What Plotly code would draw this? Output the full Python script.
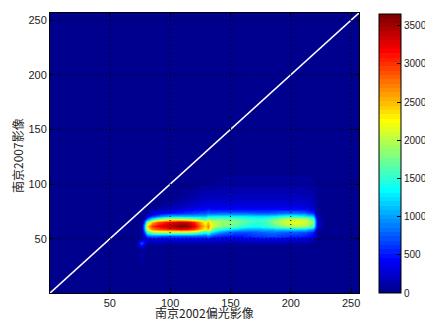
import numpy as np
import plotly.graph_objects as go

# ---------------- data ----------------
x_centers = [1, 72, 76, 78, 81, 85, 90, 96, 102, 108, 114, 120, 125, 129, 131,
             134, 140, 148, 156, 164, 172, 180, 188, 196, 204, 212, 218, 222, 228, 256]
y_centers = [1, 42, 46, 50, 53, 56, 59, 62, 65, 68, 71, 74, 77, 81, 88, 96, 106, 118, 256]

#            1  72   76   78   81    85    90    96   102   108   114   120   125   129   131   134   140   148   156   164   172   180   188   196   204   212   218  222  228 256
row_001 = [0, 0,   0,   0,    0,    0,    0,    0,    0,    0,    0,    0,    0,    0,    0,    0,    0,    0,    0,    0,    0,    0,    0,    0,    0,    0,    0,   0,   0, 0]
row_042 = [0, 0, 100,  80,    0,    0,    0,    0,    0,    0,    0,    0,    0,    0,    0,    0,    0,    0,    0,    0,    0,    0,    0,    0,    0,    0,    0,   0,   0, 0]
row_046 = [0, 0, 700, 500,  100,  120,  100,  100,  100,  100,  100,  100,  100,  100,  100,  100,  100,  100,  100,  100,  100,  100,  100,  100,  100,   90,   50,   0,   0, 0]
row_050 = [0, 0, 200, 200,  300,  350,  350,  350,  350,  350,  350,  350,  350,  350,  400,  350,  300,  300,  320,  350,  380,  380,  380,  350,  320,  300,  180,  20,   0, 0]
row_053 = [0, 0, 100, 300,  700,  800,  750,  700,  700,  700,  700,  700,  700,  700,  800,  650,  550,  500,  480,  550,  600,  650,  650,  600,  550,  520,  380,  50,   0, 0]
row_056 = [0, 0,   0, 600, 1500, 1900, 2000, 2000, 2000, 2000, 2000, 1900, 1650, 1450, 1650, 1300, 1000,  800,  700,  700,  750,  800,  800,  750,  750,  700,  550,  80,   0, 0]
row_059 = [0, 0,   0, 900, 2200, 2700, 2900, 3000, 3100, 3200, 3150, 2950, 2600, 2200, 2500, 1900, 1500, 1300, 1150, 1050, 1050, 1100, 1150, 1200, 1250, 1200, 1000, 150,   0, 0]
row_062 = [0, 0,   0,1000, 2400, 3000, 3200, 3350, 3500, 3650, 3600, 3300, 2800, 2400, 2700, 2200, 1900, 1750, 1600, 1450, 1400, 1500, 1700, 1900, 2000, 1950, 1650, 250,   0, 0]
row_065 = [0, 0,   0, 600, 1800, 2500, 2900, 3100, 3250, 3400, 3350, 3050, 2600, 2200, 2500, 2100, 1950, 1850, 1750, 1600, 1500, 1600, 1900, 2100, 2200, 2100, 1800, 300,   0, 0]
row_068 = [0, 0,   0, 200,  800, 1400, 1800, 2000, 2100, 2100, 2000, 1900, 1750, 1650, 1850, 1750, 1750, 1700, 1650, 1550, 1500, 1550, 1800, 2000, 2050, 2000, 1650, 250,   0, 0]
row_071 = [0, 0,   0,  50,  300,  600,  800, 1000, 1100, 1100, 1100, 1100, 1100, 1100, 1300, 1250, 1300, 1300, 1300, 1250, 1200, 1200, 1300, 1400, 1400, 1300, 1100, 150,   0, 0]
row_074 = [0, 0,   0,   0,  100,  250,  350,  450,  500,  550,  600,  650,  700,  700,  800,  750,  800,  800,  800,  800,  750,  750,  800,  850,  850,  800,  600,  80,   0, 0]
row_077 = [0, 0,   0,   0,    0,  100,  150,  200,  250,  300,  350,  400,  420,  450,  500,  450,  450,  450,  450,  450,  450,  450,  450,  450,  450,  420,  300,  50,   0, 0]
row_081 = [0, 0,   0,   0,    0,    0,    0,   80,  120,  150,  200,  250,  280,  300,  320,  300,  300,  300,  300,  300,  300,  300,  300,  300,  300,  280,  200,  60,  20, 0]
row_088 = [0, 0,   0,   0,    0,    0,    0,    0,    0,   60,  100,  130,  160,  180,  200,  190,  190,  200,  200,  200,  200,  200,  200,  200,  200,  180,  140,  60,  20, 0]
row_096 = [0, 0,   0,   0,    0,    0,    0,    0,    0,    0,    0,   60,   80,  100,  110,  110,  120,  130,  130,  130,  130,  130,  130,  130,  130,  120,  100,  50,  20, 0]
row_106 = [0, 0,   0,   0,    0,    0,    0,    0,    0,    0,    0,    0,    0,    0,    0,    0,   50,   70,   70,   70,   70,   70,   70,   70,   70,   70,   50,  30,   0, 0]
row_118 = [0, 0,   0,   0,    0,    0,    0,    0,    0,    0,    0,    0,    0,    0,    0,    0,    0,    0,    0,    0,    0,    0,    0,    0,    0,    0,    0,   0,   0, 0]
row_256 = [0, 0,   0,   0,    0,    0,    0,    0,    0,    0,    0,    0,    0,    0,    0,    0,    0,    0,    0,    0,    0,    0,    0,    0,    0,    0,    0,   0,   0, 0]

counts = [row_001, row_042, row_046, row_050, row_053, row_056, row_059, row_062, row_065,
          row_068, row_071, row_074, row_077, row_081, row_088, row_096, row_106, row_118, row_256]

axis_ticks = [50, 100, 150, 200, 250]
axis_range = [0.5, 256.5]
diag_xy = [0, 257]
cbar_max = 3650
cbar_ticks = [0, 500, 1000, 1500, 2000, 2500, 3000, 3500]

x_title = "南京2002偏光影像"
y_title = "南京2007影像"

# ---------------- MATLAB jet(64) colormap ----------------
def jet64():
    m = 64
    n = int(np.ceil(m / 4))
    u = np.concatenate([np.arange(1, n + 1) / n, np.ones(n - 1), np.arange(n, 0, -1) / n])
    g = int(np.ceil(n / 2)) - (1 if m % 4 == 1 else 0) + np.arange(1, len(u) + 1)
    r = g + n
    b = g - n
    J = np.zeros((m, 3))
    for idx, val in zip(r, u):
        if 1 <= idx <= m:
            J[idx - 1, 0] = val
    for idx, val in zip(g, u):
        if 1 <= idx <= m:
            J[idx - 1, 1] = val
    for idx, val in zip(b, u):
        if 1 <= idx <= m:
            J[idx - 1, 2] = val
    return J

J = jet64()
colorscale = []
for i, c in enumerate(J):
    col = "rgb(%d,%d,%d)" % tuple(int(round(v * 255)) for v in c)
    colorscale.append([i / 64, col])
    colorscale.append([(i + 1) / 64, col])
bg = colorscale[0][1]

W, H = 425, 320
tick_family = "Liberation Sans"

fig = go.Figure()
fig.add_trace(go.Heatmap(
    x=x_centers, y=y_centers, z=counts,
    zmin=0, zmax=cbar_max, colorscale=colorscale, zsmooth="best",
    colorbar=dict(
        thickness=22, thicknessmode="pixels",
        len=279, lenmode="pixels",
        x=1.0647, xanchor="left", xpad=0,
        y=0.996, yanchor="top", ypad=0,
        outlinecolor="black", outlinewidth=1,
        tickvals=cbar_ticks, ticks="inside", ticklen=4, tickcolor="black",
        tickfont=dict(family=tick_family, size=10, color="#222"),
    ),
    hoverinfo="skip",
))
fig.add_trace(go.Scatter(x=diag_xy, y=diag_xy, mode="lines",
                         line=dict(color="white", width=1.6), showlegend=False,
                         hoverinfo="skip"))

shapes = []
for t in axis_ticks:
    shapes.append(dict(type="line", xref="x", yref="y domain", x0=t, x1=t, y0=0, y1=1,
                       line=dict(color="black", width=1, dash="1px,3px"), layer="above"))
    shapes.append(dict(type="line", xref="x domain", yref="y", x0=0, x1=1, y0=t, y1=t,
                       line=dict(color="black", width=1, dash="1px,3px"), layer="above"))

axis_common = dict(
    range=axis_range, tickvals=axis_ticks, ticks="inside", ticklen=4, tickcolor="black",
    showline=True, linecolor="black", linewidth=1, mirror="ticks", showgrid=False,
    zeroline=False, layer="above traces",
    tickfont=dict(family=tick_family, size=11, color="#222"),
)
title_font = dict(family="Noto Sans CJK SC", size=12, color="#222")
fig.update_layout(
    width=W, height=H,
    margin=dict(l=50, r=66, t=13, b=27, autoexpand=False),
    paper_bgcolor="white", plot_bgcolor=bg,
    showlegend=False,
    shapes=shapes,
    xaxis=dict(**axis_common),
    yaxis=dict(**axis_common),
    annotations=[
        dict(text=x_title, xref="paper", yref="paper", x=0.5, y=0, yshift=-19,
             xanchor="center", yanchor="middle", showarrow=False, font=title_font),
        dict(text=y_title, xref="paper", yref="paper", x=0, y=0.5, xshift=-33, yshift=-3,
             xanchor="center", yanchor="middle", showarrow=False, textangle=-90,
             font=title_font),
    ],
)
fig.write_html(
    "out.html",
    config={"displayModeBar": False},
    post_script="document.body.style.margin='0';document.body.style.overflow='hidden';",
)
